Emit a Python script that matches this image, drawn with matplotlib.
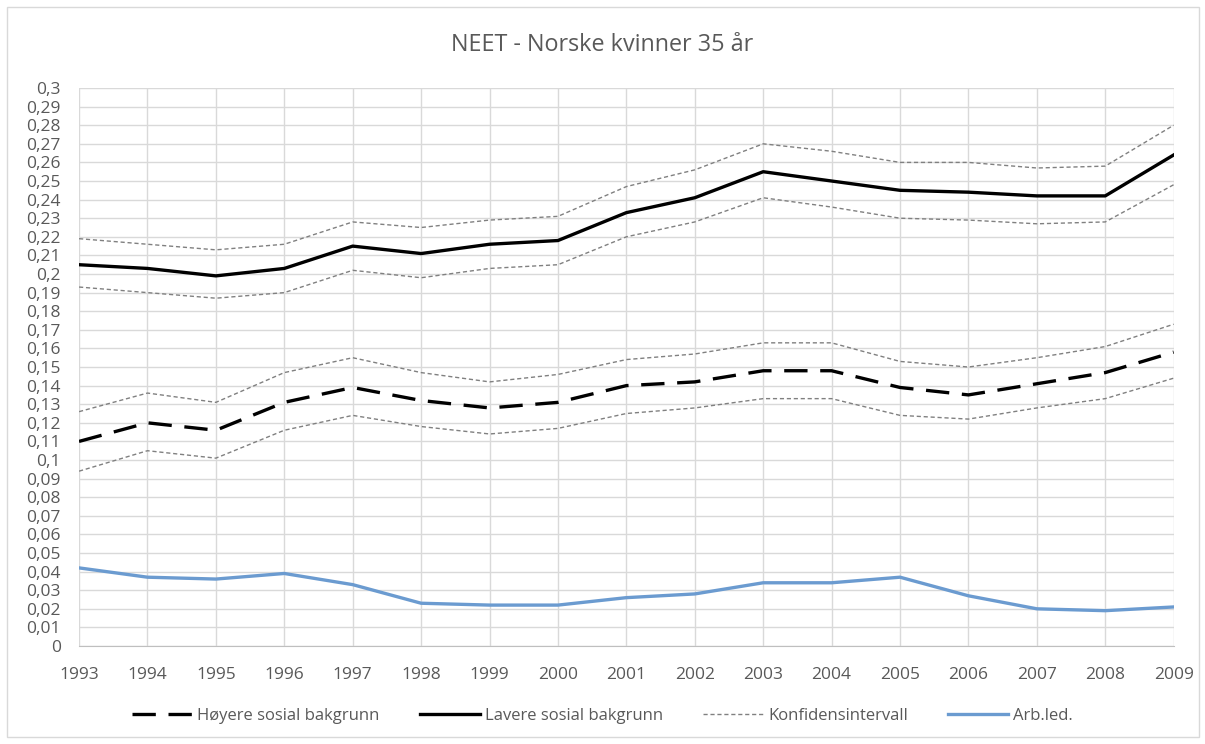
import numpy as np
import matplotlib
matplotlib.use("Agg")
import matplotlib.pyplot as plt
from matplotlib.ticker import FuncFormatter, MultipleLocator

plt.rcParams['font.family'] = ['Open Sans', 'DejaVu Sans']

years = list(range(1993, 2010))

# Lavere sosial bakgrunn (solid) + confidence band
lavere = [0.205, 0.203, 0.199, 0.203, 0.215, 0.211, 0.216, 0.218, 0.233,
          0.241, 0.255, 0.250, 0.245, 0.244, 0.242, 0.242, 0.264]
lavere_hi = [0.219, 0.216, 0.213, 0.216, 0.228, 0.225, 0.229, 0.231, 0.247,
             0.256, 0.270, 0.266, 0.260, 0.260, 0.257, 0.258, 0.280]
lavere_lo = [0.193, 0.190, 0.187, 0.190, 0.202, 0.198, 0.203, 0.205, 0.220,
             0.228, 0.241, 0.236, 0.230, 0.229, 0.227, 0.228, 0.248]

# Høyere sosial bakgrunn (dashed) + confidence band
hoyere = [0.110, 0.120, 0.116, 0.131, 0.139, 0.132, 0.128, 0.131, 0.140,
          0.142, 0.148, 0.148, 0.139, 0.135, 0.141, 0.147, 0.158]
hoyere_hi = [0.126, 0.136, 0.131, 0.147, 0.155, 0.147, 0.142, 0.146, 0.154,
             0.157, 0.163, 0.163, 0.153, 0.150, 0.155, 0.161, 0.173]
hoyere_lo = [0.094, 0.105, 0.101, 0.116, 0.124, 0.118, 0.114, 0.117, 0.125,
             0.128, 0.133, 0.133, 0.124, 0.122, 0.128, 0.133, 0.144]

# Arb.led.
arbled = [0.042, 0.037, 0.036, 0.039, 0.033, 0.023, 0.022, 0.022, 0.026,
          0.028, 0.034, 0.034, 0.037, 0.027, 0.020, 0.019, 0.021]

fig = plt.figure(figsize=(12.05, 7.44), dpi=100)
ax = fig.add_axes([0.0656, 0.1317, 0.9084, 0.75])

# outer chart border
fig.patches.append(plt.Rectangle((0.006, 0.009), 0.989, 0.982, transform=fig.transFigure,
                                 fill=False, edgecolor='#d9d9d9', linewidth=1.0))

ci_style = dict(color='#808080', linewidth=1.0, linestyle=(0, (3, 2)))
ax.plot(years, hoyere_hi, label='Konfidensintervall', **ci_style)
ax.plot(years, hoyere_lo, **ci_style)
ax.plot(years, lavere_hi, **ci_style)
ax.plot(years, lavere_lo, **ci_style)

ax.plot(years, hoyere, color='black', linewidth=2.4, linestyle=(0, (7, 3.8)),
        label='Høyere sosial bakgrunn')
ax.plot(years, lavere, color='black', linewidth=2.4, label='Lavere sosial bakgrunn')
ax.plot(years, arbled, color='#6b9bd0', linewidth=2.4, label='Arb.led.')

ax.set_xlim(1993, 2009)
ax.set_ylim(0, 0.3)
ax.set_xticks(years)
ax.yaxis.set_major_locator(MultipleLocator(0.01))
ax.yaxis.set_major_formatter(FuncFormatter(lambda v, p: ('%g' % round(v, 2)).replace('.', ',')))
ax.grid(True, color='#d9d9d9', linewidth=1.0)
ax.set_axisbelow(True)
for s in ['top', 'right', 'left']:
    ax.spines[s].set_visible(False)
ax.spines['bottom'].set_color('#bfbfbf')
ax.tick_params(axis='both', length=0, colors='#595959', labelsize=12.5)
ax.tick_params(axis='x', pad=15)
ax.tick_params(axis='y', pad=13)

fig.text(0.5, 0.939, 'NEET - Norske kvinner 35 år', ha='center', va='center',
         fontsize=16.8, color='#595959')

handles, labels = ax.get_legend_handles_labels()
order = [labels.index(n) for n in ['Høyere sosial bakgrunn', 'Lavere sosial bakgrunn',
                                   'Konfidensintervall', 'Arb.led.']]
fig.legend([handles[i] for i in order], [labels[i] for i in order], loc='center',
           bbox_to_anchor=(0.5, 0.038), ncol=4, frameon=False, fontsize=12,
           labelcolor='#595959', handlelength=3.6, columnspacing=2.4, handletextpad=0.3)

fig.savefig('out.png', dpi=100)
